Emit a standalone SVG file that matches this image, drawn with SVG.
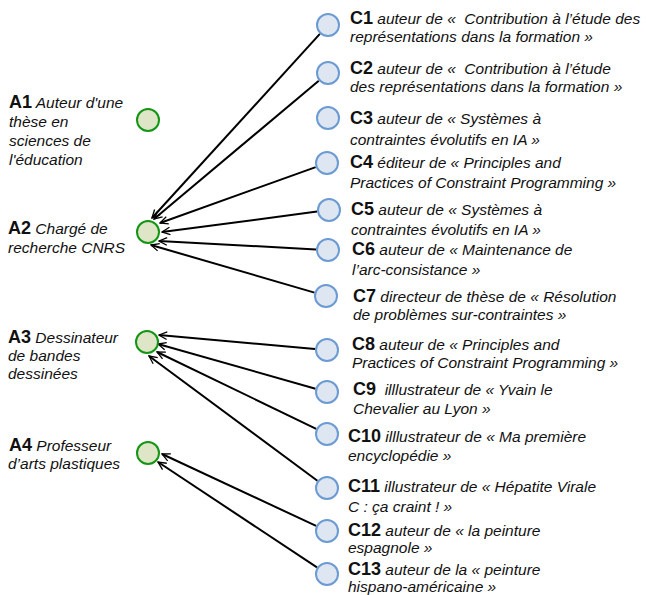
<svg xmlns="http://www.w3.org/2000/svg" width="646" height="595" viewBox="0 0 646 595">
<style>
text{font-family:"Liberation Sans",Arial,sans-serif;white-space:pre;fill:#111}
.b{font-weight:bold;font-size:18px}
.i{font-style:italic;font-size:15.5px}
.a{fill:#dfe6c8;stroke:#139613;stroke-width:2}
.c{fill:#dee6f2;stroke:#6b9bd2;stroke-width:2}
.e{stroke:#000;stroke-width:2;fill:none;marker-end:url(#arr)}
</style>
<defs>
<marker id="arr" markerUnits="userSpaceOnUse" markerWidth="10" markerHeight="10" refX="9" refY="5" viewBox="0 0 10 10" orient="auto">
<path d="M1,1.2 L9,5 L1,8.8" fill="none" stroke="#000" stroke-width="1.3"/>
</marker>
</defs>
<g id="connectors">
<line class="e" x1="319.9" y1="33.9" x2="152" y2="218"/>
<line class="e" x1="318.8" y1="80.7" x2="154" y2="219"/>
<line class="e" x1="315.7" y1="167.1" x2="160" y2="223"/>
<line class="e" x1="317.1" y1="211.6" x2="162" y2="232"/>
<line class="e" x1="316" y1="249.4" x2="159" y2="241"/>
<line class="e" x1="314.5" y1="292.6" x2="151" y2="245"/>
<line class="e" x1="315" y1="348.9" x2="159" y2="335"/>
<line class="e" x1="315.5" y1="388.7" x2="158" y2="344"/>
<line class="e" x1="316.2" y1="428.8" x2="157" y2="352"/>
<line class="e" x1="317.4" y1="480.8" x2="149" y2="356"/>
<line class="e" x1="316.1" y1="525.9" x2="162" y2="454"/>
<line class="e" x1="317" y1="567.4" x2="158" y2="462"/>
</g>
<g id="A1"><circle class="a" cx="148" cy="120" r="11"/>
<text x="9" y="108"><tspan class="b">A1</tspan><tspan class="i"> Auteur d'une</tspan></text>
<text class="i" x="9" y="127">thèse en</text>
<text class="i" x="9" y="146">sciences de</text>
<text class="i" x="9" y="165">l'éducation</text></g>
<g id="A2"><circle class="a" cx="148" cy="232" r="11"/>
<text x="8" y="234"><tspan class="b">A2</tspan><tspan class="i"> Chargé de</tspan></text>
<text class="i" x="8" y="253">recherche CNRS</text></g>
<g id="A3"><circle class="a" cx="147" cy="342" r="11"/>
<text x="8" y="343"><tspan class="b">A3</tspan><tspan class="i"> Dessinateur</tspan></text>
<text class="i" x="8" y="361">de bandes</text>
<text class="i" x="8" y="379">dessinées</text></g>
<g id="A4"><circle class="a" cx="148" cy="453" r="11"/>
<text x="9" y="451"><tspan class="b">A4</tspan><tspan class="i"> Professeur</tspan></text>
<text class="i" x="8" y="469">d’arts plastiques</text></g>
<g id="C1"><circle class="c" cx="328" cy="25" r="11"/>
<text x="350" y="24"><tspan class="b">C1</tspan><tspan class="i"> auteur de «  Contribution à l’étude des</tspan></text>
<text class="i" x="350" y="42">représentations dans la formation »</text></g>
<g id="C2"><circle class="c" cx="328" cy="73" r="11"/>
<text x="350" y="74"><tspan class="b">C2</tspan><tspan class="i"> auteur de «  Contribution à l’étude</tspan></text>
<text class="i" x="350" y="92">des représentations dans la formation »</text></g>
<g id="C3"><circle class="c" cx="328" cy="118" r="11"/>
<text x="350" y="124"><tspan class="b">C3</tspan><tspan class="i"> auteur de « Systèmes à</tspan></text>
<text class="i" x="350" y="145">contraintes évolutifs en IA »</text></g>
<g id="C4"><circle class="c" cx="327" cy="163" r="11"/>
<text x="350" y="168"><tspan class="b">C4</tspan><tspan class="i"> éditeur de « Principles and</tspan></text>
<text class="i" x="350" y="188">Practices of Constraint Programming »</text></g>
<g id="C5"><circle class="c" cx="329" cy="210" r="11"/>
<text x="351" y="215"><tspan class="b">C5</tspan><tspan class="i"> auteur de « Systèmes à</tspan></text>
<text class="i" x="351" y="235">contraintes évolutifs en IA »</text></g>
<g id="C6"><circle class="c" cx="328" cy="250" r="11"/>
<text x="352" y="255"><tspan class="b">C6</tspan><tspan class="i"> auteur de « Maintenance de</tspan></text>
<text class="i" x="352" y="275">l’arc-consistance »</text></g>
<g id="C7"><circle class="c" cx="326" cy="296" r="11"/>
<text x="353" y="302"><tspan class="b">C7</tspan><tspan class="i"> directeur de thèse de « Résolution</tspan></text>
<text class="i" x="353" y="320">de problèmes sur-contraintes »</text></g>
<g id="C8"><circle class="c" cx="327" cy="350" r="11"/>
<text x="352" y="350"><tspan class="b">C8</tspan><tspan class="i"> auteur de « Principles and</tspan></text>
<text class="i" x="352" y="368">Practices of Constraint Programming »</text></g>
<g id="C9"><circle class="c" cx="327" cy="392" r="11"/>
<text x="353" y="395"><tspan class="b">C9</tspan><tspan class="i">  illlustrateur de « Yvain le</tspan></text>
<text class="i" x="353" y="414">Chevalier au Lyon »</text></g>
<g id="C10"><circle class="c" cx="327" cy="434" r="11"/>
<text x="348" y="442"><tspan class="b">C10</tspan><tspan class="i"> illlustrateur de « Ma première</tspan></text>
<text class="i" x="348" y="461">encyclopédie »</text></g>
<g id="C11"><circle class="c" cx="327" cy="488" r="11"/>
<text x="348" y="492"><tspan class="b">C11</tspan><tspan class="i"> illustrateur de « Hépatite Virale</tspan></text>
<text class="i" x="348" y="512">C : ça craint ! »</text></g>
<g id="C12"><circle class="c" cx="327" cy="531" r="11"/>
<text x="348" y="536"><tspan class="b">C12</tspan><tspan class="i"> auteur de « la peinture</tspan></text>
<text class="i" x="348" y="553">espagnole »</text></g>
<g id="C13"><circle class="c" cx="327" cy="574" r="11"/>
<text x="348" y="575"><tspan class="b">C13</tspan><tspan class="i"> auteur de la « peinture</tspan></text>
<text class="i" x="348" y="592">hispano-américaine »</text></g>
</svg>
